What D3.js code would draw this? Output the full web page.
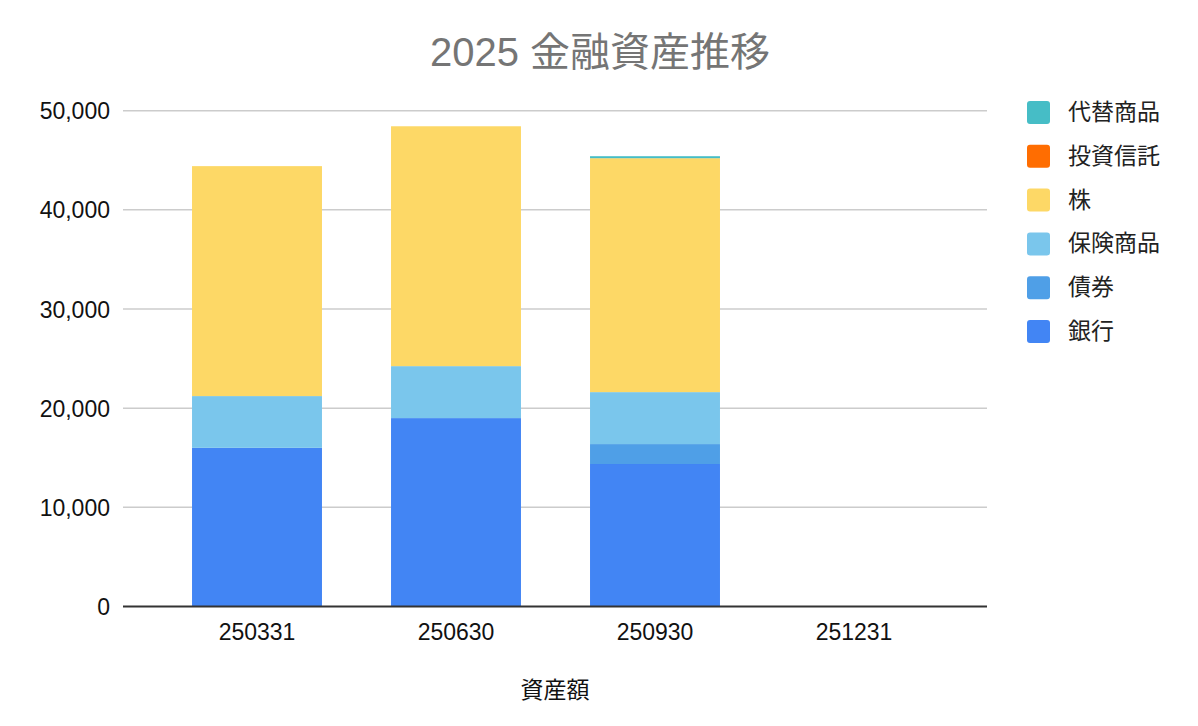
<!DOCTYPE html>
<html><head><meta charset="utf-8">
<script src="https://cdn.jsdelivr.net/npm/d3@7"></script>
<style>
html,body{margin:0;padding:0;background:#fff;}
text{font-family:"Liberation Sans","Noto Sans CJK JP",sans-serif;}
</style></head>
<body>
<svg id="chart" width="1198" height="726"></svg>
<script>
const categories = ["250331","250630","250930","251231"];
const seriesNames = ["銀行","債券","保険商品","株","投資信託","代替商品"];
const bank = [16000, 19000, 14370, 0];
const bonds = [0, 0, 2010, 0];
const insurance = [5220, 5240, 5240, 0];
const stocks = [23190, 24190, 23590, 0];
const funds = [0, 0, 0, 0];
const alternatives = [0, 0, 200, 0];
const colors = ["#4285f4","#4f9fe7","#7ac6ec","#fdd866","#ff6d01","#46bdc6"];
const yTicks = [0,10000,20000,30000,40000,50000];
const title = "2025 金融資産推移";
const xTitle = "資産額";

(function(){
const seriesValues = [bank, bonds, insurance, stocks, funds, alternatives];
const table = categories.map((c,i)=>{
  const row = {cat:c};
  seriesNames.forEach((s,j)=>row[s]=seriesValues[j][i]);
  return row;
});

const svg = d3.select("#chart");
const plotLeft = 123, plotRight = 987, plotTop = 110.7, plotBottom = 606.5;
const ff = '"Liberation Sans","Noto Sans CJK JP",sans-serif';

const x = d3.scaleBand().domain(categories).range([157.5, 953.5]).paddingInner(0.347).paddingOuter(0.1735);
const y = d3.scaleLinear().domain([0,50000]).range([plotBottom, plotTop]);

// gridlines
svg.append("g").selectAll("line").data(yTicks.filter(d=>d>0)).join("line")
  .attr("x1",plotLeft).attr("x2",plotRight)
  .attr("y1",d=>y(d)).attr("y2",d=>y(d))
  .attr("stroke","#cccccc").attr("stroke-width",1.5);

// y tick labels
const yAxis = d3.axisLeft(y).tickValues(yTicks).tickFormat(d3.format(",")).tickSize(0).tickPadding(0);
const ya = svg.append("g").attr("transform",`translate(110,0)`).call(yAxis);
ya.select(".domain").remove();
ya.selectAll("text").attr("font-size",23).attr("fill","#111").attr("dy","0.35em")
  .style("font-family",ff);

// stacked bars
const stack = d3.stack().keys(seriesNames)(table);
svg.append("g").selectAll("g").data(stack).join("g")
  .attr("fill",(d,i)=>colors[i])
  .selectAll("rect").data(d=>d).join("rect")
  .attr("x",d=>x(d.data.cat))
  .attr("width",x.bandwidth())
  .attr("y",d=>y(d[1]))
  .attr("height",d=>Math.max(0,y(d[0])-y(d[1])));

// baseline
svg.append("line").attr("x1",plotLeft).attr("x2",plotRight).attr("y1",plotBottom).attr("y2",plotBottom)
  .attr("stroke","#333").attr("stroke-width",2);

// x axis labels
const xAxis = d3.axisBottom(x).tickSize(0).tickPadding(0);
const xa = svg.append("g").attr("transform",`translate(0,${plotBottom})`).call(xAxis);
xa.select(".domain").remove();
xa.selectAll("text").attr("font-size",23).attr("fill","#111").attr("y",25).attr("dy","0.35em")
  .style("font-family",ff);

// title
svg.append("text").attr("x",600).attr("y",52).attr("text-anchor","middle").attr("dominant-baseline","central")
  .attr("font-size",40).attr("fill","#757575").text(title);

// x title
svg.append("text").attr("x",555).attr("y",690).attr("text-anchor","middle").attr("dominant-baseline","central")
  .attr("font-size",23).attr("fill","#111").text(xTitle);

// legend
const legendItems = seriesNames.map((s,i)=>({name:s,color:colors[i]})).reverse();
const lg = svg.append("g").selectAll("g").data(legendItems).join("g")
  .attr("transform",(d,i)=>`translate(1027,${112+i*43.8})`);
lg.append("rect").attr("x",0).attr("y",-11).attr("width",23).attr("height",23).attr("rx",3)
  .attr("fill",d=>d.color);
lg.append("text").attr("x",41).attr("y",0).attr("dominant-baseline","central")
  .attr("font-size",23).attr("fill","#222").text(d=>d.name);
})();
</script>
</body></html>
